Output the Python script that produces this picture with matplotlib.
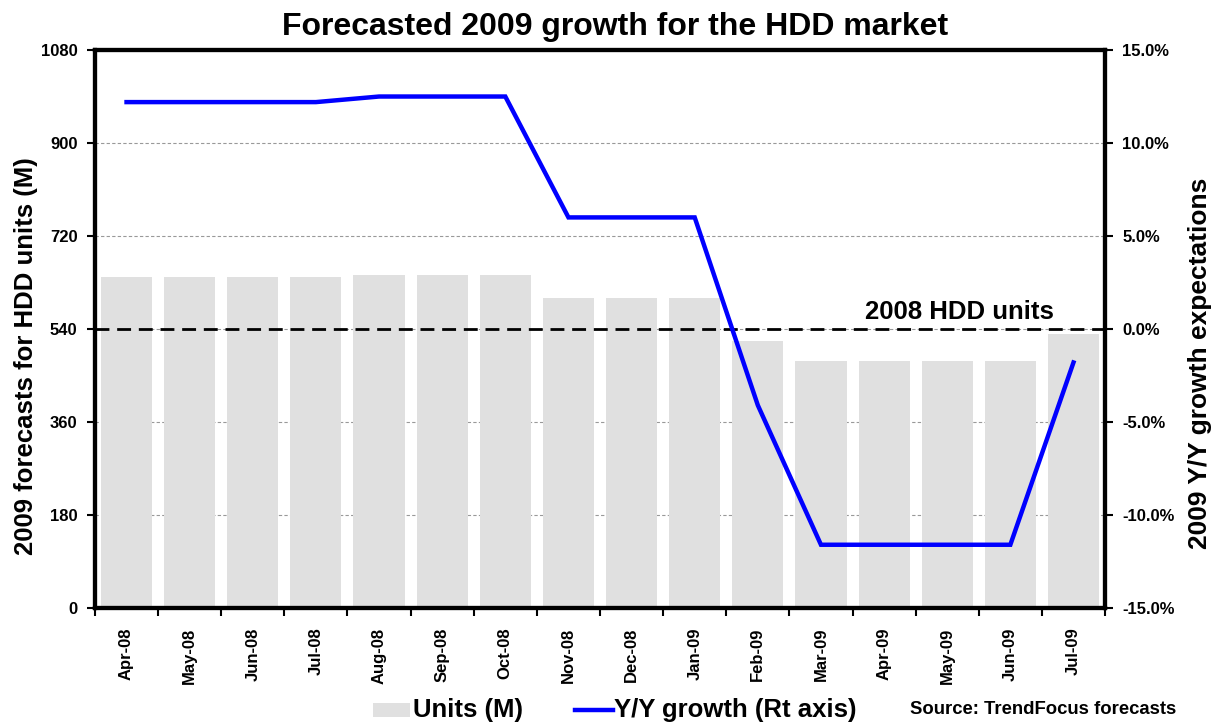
import numpy as np
import matplotlib.pyplot as plt
from matplotlib.patches import Rectangle
from matplotlib.lines import Line2D

# Forecast months
months = ["Apr-08", "May-08", "Jun-08", "Jul-08", "Aug-08", "Sep-08", "Oct-08", "Nov-08",
          "Dec-08", "Jan-09", "Feb-09", "Mar-09", "Apr-09", "May-09", "Jun-09", "Jul-09"]

# 2009 HDD unit forecasts (M)
units = [640, 640, 640, 640, 644, 644, 644, 600, 600, 600, 517, 478, 478, 478, 478, 530]

# 2009 Y/Y growth expectations (%)
growth = [12.2, 12.2, 12.2, 12.2, 12.5, 12.5, 12.5, 6.0, 6.0, 6.0, -4.1, -11.6, -11.6, -11.6, -11.6, -1.8]

units_2008 = 540

fam = ["Liberation Sans", "DejaVu Sans"]
bold = {"fontweight": "bold", "family": fam}
bar_color = "#e0e0e0"
line_color = "#0000ff"

fig = plt.figure(figsize=(12.13, 7.25), dpi=100)
ax = fig.add_axes([0.0783, 0.1614, 0.8327, 0.7696])
x = np.arange(len(months))

ax.bar(x, units, width=0.81, color=bar_color, zorder=2)
ax.axhline(units_2008, color="black", lw=2, ls=(0, (5, 2.8)), zorder=3)
ax.text(13.2, 559, "2008 HDD units", ha="center", va="baseline", fontsize=18.5, **bold)

ax.set_xlim(-0.5, len(months) - 0.5)
ax.set_ylim(0, 1080)
ax.set_yticks(np.arange(0, 1081, 180))
ax.yaxis.grid(True, color="#999999", ls=(0, (3, 2)), lw=0.8)
ax.set_axisbelow(True)

# month labels at bar centres, tick marks between bars
ax.set_xticks(x)
ax.set_xticklabels(months, rotation=90, fontsize=12, **bold)
ax.set_xticks(np.arange(-0.5, len(months)), minor=True)
ax.tick_params(axis="x", which="major", length=0, pad=14)
ax.tick_params(axis="x", which="minor", length=6, width=1.5, direction="out")
ax.tick_params(axis="y", length=6, width=1.5, pad=6.5)
for lab in ax.get_yticklabels():
    lab.set_fontsize(12)
    lab.set_fontweight("bold")
    lab.set_family(fam)
ax.set_ylabel("2009 forecasts for HDD units (M)", fontsize=18.5, **bold)
ax.yaxis.set_label_coords(-0.0564, 0.452)

for s in ax.spines.values():
    s.set_linewidth(3)

ax2 = ax.twinx()
ax2.plot(x, growth, color=line_color, lw=3.2, solid_joinstyle="miter")
ax2.set_ylim(-15, 15)
ax2.set_yticks(np.arange(-15, 16, 5))
ax2.set_yticklabels([f"{v:.1f}%" for v in np.arange(-15, 16, 5)], fontsize=12, **bold)
ax2.tick_params(axis="y", length=6, width=1.5, pad=6.5)
ax2.set_ylabel("2009 Y/Y growth expectations", fontsize=19, **bold)
ax2.yaxis.set_label_coords(1.082, 0.439)
for s in ax2.spines.values():
    s.set_linewidth(3)

fig.text(0.5074, 1 - 35 / 725, "Forecasted 2009 growth for the HDD market",
         ha="center", va="baseline", fontsize=23, **bold)

# legend row along the bottom
ly = 1 - 710 / 725
fig.patches.append(Rectangle((373 / 1213, 1 - 717 / 725), 37 / 1213, 14 / 725,
                             transform=fig.transFigure, facecolor=bar_color, edgecolor="none"))
fig.text(413 / 1213, ly, "Units (M)", va="center", fontsize=18.5, **bold)
fig.lines.append(Line2D([575 / 1213, 613 / 1213], [ly, ly], transform=fig.transFigure,
                        color=line_color, lw=3.2))
fig.text(614 / 1213, ly, "Y/Y growth (Rt axis)", va="center", fontsize=18.5, **bold)
fig.text(910 / 1213, ly, "Source: TrendFocus forecasts", va="center", fontsize=13.3, **bold)

fig.savefig("out.png", dpi=100)
